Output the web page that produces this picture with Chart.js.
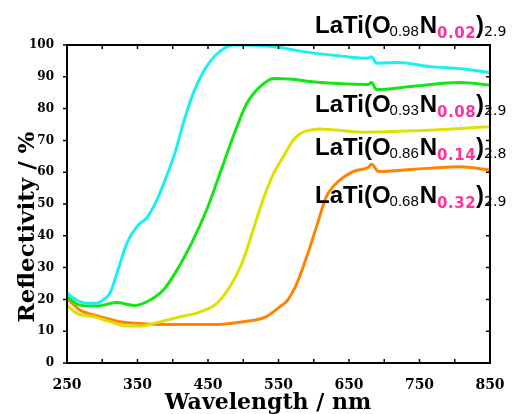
<!DOCTYPE html>
<html>
<head>
<meta charset="utf-8">
<script src="https://cdn.jsdelivr.net/npm/chart.js@4"></script>
<style>
  html, body { margin: 0; padding: 0; background: #fff; }
  #wrap { width: 520px; height: 414px; }
</style>
</head>
<body>
<div id="wrap"><canvas id="reflChart" width="520" height="414"></canvas></div>
<script>
// Data (wavelength in nm, reflectivity in %)
const cyanNm = [250, 258, 268, 280, 292, 302, 311, 322, 335, 349, 363, 377, 391, 403, 415, 429, 448, 467, 486, 505, 542, 595, 640, 676, 682, 689, 720, 765, 810, 850];
const cyanR  = [22, 20.5, 19.3, 18.8, 18.8, 20, 22, 29, 37.7, 42.9, 45.6, 51, 58.6, 66, 75.4, 84.8, 93.2, 98, 100, 100, 99.5, 97.6, 96.5, 95.8, 96.3, 94.3, 94.5, 93.2, 92.5, 91.3];

const greenNm = [250, 268, 292, 320, 346, 368, 387, 406, 429, 448, 462, 477, 491, 505, 524, 543, 571, 595, 640, 677, 682, 689, 741, 807, 850];
const greenR  = [20.9, 18.2, 17.9, 19, 18.1, 19.8, 23, 29.2, 38.7, 48.1, 56.5, 65.9, 74.3, 81.6, 86.9, 89.5, 89.2, 88.5, 87.8, 87.6, 88.2, 86, 87, 88.2, 87.4];

const yellowNm = [250, 264, 287, 311, 335, 354, 377, 406, 439, 462, 481, 498, 514, 528, 543, 557, 571, 580, 590, 609, 670, 741, 850];
const yellowR  = [18.2, 15.6, 14.6, 13, 11.6, 11.6, 12.7, 14.3, 16.1, 18.7, 24, 31.3, 41.8, 51.3, 59.6, 64.9, 70.1, 72, 73, 73.6, 72.6, 73, 74.3];

const orangeNm = [250, 268, 297, 325, 349, 382, 453, 500, 533, 552, 562, 576, 590, 604, 618, 637, 656, 677, 682, 692, 741, 807, 850];
const orangeR  = [20.3, 16.7, 14.6, 13, 12.5, 12.1, 12.1, 13, 14.6, 17.7, 19.5, 25, 33.4, 42.9, 52.3, 57.5, 60.2, 61.5, 62.5, 60.2, 60.9, 61.7, 60.7];

const yTicks = [0, 10, 20, 30, 40, 50, 60, 70, 80, 90, 100];
const xTicks = [250, 300, 350, 400, 450, 500, 550, 600, 650, 700, 750, 800, 850];

// sample labels: [O, N, suffix] and baseline y
const labels = [
    ['0.98', '0.02', '2.9', 33],
    ['0.93', '0.08', '2.9', 112],
    ['0.86', '0.14', '2.8', 155],
    ['0.68', '0.32', '2.9', 203]
];

function pts(xs, ys) {
    return xs.map((x, i) => ({ x: x, y: ys[i] }));
}

const serif = '"DejaVu Serif", "Liberation Serif", serif';
const sans = '"Liberation Sans", Arial, sans-serif';
const wide = '"DejaVu Sans", sans-serif';

// frame, tick marks, axis titles and sample labels
const framePlugin = {
    id: 'frame',
    afterDatasetsDraw(chart) {
        const { ctx, chartArea: a, scales } = chart;
        ctx.save();
        ctx.strokeStyle = '#000';
        ctx.lineWidth = 2;
        ctx.strokeRect(a.left, a.top, a.right - a.left, a.bottom - a.top);
        ctx.lineWidth = 1.5;
        ctx.beginPath();
        xTicks.forEach(v => {
            const x = scales.x.getPixelForValue(v);
            ctx.moveTo(x, a.bottom); ctx.lineTo(x, a.bottom - 4);
            ctx.moveTo(x, a.top); ctx.lineTo(x, a.top + 4);
        });
        yTicks.forEach(v => {
            const y = scales.y.getPixelForValue(v);
            ctx.moveTo(a.left, y); ctx.lineTo(a.left - 4, y);
            ctx.moveTo(a.right, y); ctx.lineTo(a.right - 4, y);
        });
        ctx.stroke();
        ctx.restore();
    },
    afterDraw(chart) {
        const ctx = chart.ctx;
        ctx.save();
        ctx.fillStyle = '#000';
        ctx.font = 'bold 22px ' + serif;
        ctx.textAlign = 'center';
        ctx.textBaseline = 'alphabetic';
        ctx.fillText('Wavelength / nm', 268, 409);
        ctx.translate(28, 227);
        ctx.rotate(-Math.PI / 2);
        ctx.font = 'bold 23px ' + serif;
        ctx.textBaseline = 'middle';
        ctx.fillText('Reflectivity / %', 0, 0);
        ctx.restore();

        ctx.save();
        ctx.textBaseline = 'alphabetic';
        labels.forEach(l => {
            let x = 315;
            const y = l[3];
            const put = (txt, font, color, dy, sp) => {
                ctx.font = font;
                ctx.letterSpacing = sp + 'px';
                ctx.fillStyle = color;
                ctx.fillText(txt, x, y + dy);
                x += ctx.measureText(txt).width;
            };
            put('LaTi(O', 'bold 24px ' + sans, '#000', 0, 0);
            x -= 1;
            put(l[0], '15px ' + sans, '#000', 3, 0);
            x += 1;
            put('N', 'bold 24px ' + sans, '#000', 0, 0);
            put(l[1], 'bold 15px ' + wide, '#ff3399', 5, 0.5);
            put(')', 'bold 24px ' + sans, '#000', 0, 0);
            put(l[2], '14px ' + wide, '#000', 3, 0);
        });
        ctx.restore();
    }
};

const ctx = document.getElementById('reflChart');
new Chart(ctx, {
    type: 'line',
    data: {
        datasets: [
            { data: pts(cyanNm, cyanR), borderColor: '#19f0f0' },
            { data: pts(greenNm, greenR), borderColor: '#14e614' },
            { data: pts(yellowNm, yellowR), borderColor: '#e0e000' },
            { data: pts(orangeNm, orangeR), borderColor: '#ff8400' }
        ].map(d => Object.assign(d, {
            borderWidth: 3,
            pointRadius: 0,
            fill: false,
            cubicInterpolationMode: 'monotone'
        }))
    },
    options: {
        responsive: false,
        animation: false,
        layout: { padding: { top: 45, right: 30, left: 0, bottom: 0 } },
        plugins: {
            legend: { display: false },
            tooltip: { enabled: false }
        },
        scales: {
            x: {
                type: 'linear',
                min: 250,
                max: 850,
                afterBuildTicks: s => { s.ticks = xTicks.map(v => ({ value: v })); },
                afterFit: s => { s.height = 51; },
                grid: { display: false },
                border: { display: false },
                ticks: {
                    autoSkip: false,
                    maxRotation: 0,
                    padding: 6,
                    color: '#000',
                    font: { family: serif, size: 14, weight: 'bold' },
                    callback: v => ((v - 250) % 100 === 0 ? v : '')
                }
            },
            y: {
                min: 0,
                max: 100,
                afterBuildTicks: s => { s.ticks = yTicks.map(v => ({ value: v })); },
                afterFit: s => { s.width = 67; },
                grid: { display: false },
                border: { display: false },
                ticks: {
                    padding: 5,
                    color: '#000',
                    font: { family: serif, size: 12, weight: 'bold' }
                }
            }
        }
    },
    plugins: [framePlugin]
});
</script>
</body>
</html>
